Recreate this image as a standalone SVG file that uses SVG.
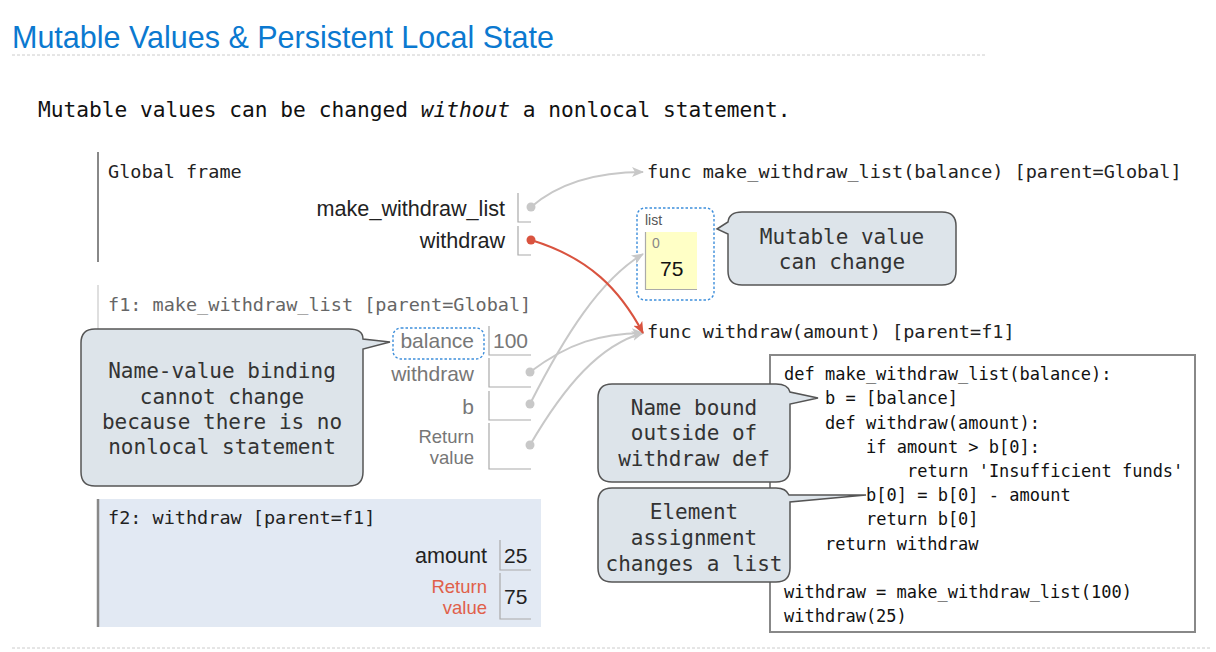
<svg xmlns="http://www.w3.org/2000/svg" width="1216" height="652" viewBox="0 0 1216 652">
<style>
  .mono { font-family: "DejaVu Sans Mono", "Liberation Mono", monospace; }
  .sans { font-family: "Liberation Sans", Arial, sans-serif; }
  .hdr { font-size: 18.5px; fill: #222; }
  .hdrg { font-size: 18.5px; fill: #666; }
  .lbl { font-size: 21.6px; fill: #222; text-anchor: end; }
  .lblg { font-size: 21px; fill: #777; text-anchor: end; }
  .rv { font-size: 18.5px; fill: #777; text-anchor: end; }
  .rvr { font-size: 18.5px; fill: #e0604a; text-anchor: end; }
  .val { font-size: 21px; fill: #222; }
  .valg { font-size: 21px; fill: #777; }
  .box { fill: none; stroke: #aaa; stroke-width: 1.2; }
  .code { font-size: 17px; fill: #111; }
  .callout { fill: #dde4ea; stroke: #555; stroke-width: 1.5; }
  .ctext { font-size: 21px; fill: #333; text-anchor: middle; }
  .dotted { fill: none; stroke: #3d8edb; stroke-width: 1.4; stroke-dasharray: 2.5,2; }
  .gray { fill: none; stroke: #c8c8c8; stroke-width: 2; }
  .red { fill: none; stroke: #d9533f; stroke-width: 2; }
</style>
<defs>
  <marker id="ag" viewBox="0 0 12 10" refX="11" refY="5" markerWidth="12" markerHeight="10" markerUnits="userSpaceOnUse" orient="auto">
    <path d="M0,0 L12,5 L0,10 L3,5 Z" fill="#c8c8c8"/>
  </marker>
  <marker id="ar" viewBox="0 0 12 10" refX="11" refY="5" markerWidth="12" markerHeight="10" markerUnits="userSpaceOnUse" orient="auto">
    <path d="M0,0 L12,5 L0,10 L3,5 Z" fill="#d9533f"/>
  </marker>
</defs>
<rect width="1216" height="652" fill="#ffffff"/>

<g id="title">
  <text x="12" y="48" class="sans" font-size="30.5" fill="#0b79d0">Mutable Values &amp; Persistent Local State</text>
  <line x1="12" y1="55" x2="985" y2="55" stroke="#cccccc" stroke-width="1" stroke-dasharray="3,2"/>
  <text x="38" y="117" class="mono" font-size="21.2" fill="#111" xml:space="preserve">Mutable values can be changed <tspan font-style="italic">without</tspan> a nonlocal statement.</text>
  <line x1="12" y1="648" x2="1212" y2="648" stroke="#cccccc" stroke-width="1" stroke-dasharray="3,2"/>
</g>

<g id="global-frame">
  <line x1="98" y1="152" x2="98" y2="262" stroke="#888" stroke-width="2"/>
  <text x="108" y="178" class="mono hdr">Global frame</text>
  <text x="505" y="216" class="sans lbl">make_withdraw_list</text>
  <path d="M518,193 V222 H531" class="box"/>
  <text x="505" y="248" class="sans lbl">withdraw</text>
  <path d="M518,226 V255 H531" class="box"/>
</g>

<g id="f1-frame">
  <line x1="98" y1="285" x2="98" y2="485" stroke="#d4d4d4" stroke-width="1.5"/>
  <text x="108" y="311" class="mono hdrg">f1: make_withdraw_list [parent=Global]</text>
  <rect x="393" y="328" width="91" height="31" rx="8" class="dotted"/>
  <text x="474" y="348" class="sans lblg">balance</text>
  <path d="M489,326 V355 H531" class="box"/>
  <text x="493" y="348" class="sans valg">100</text>
  <text x="474" y="381" class="sans lblg">withdraw</text>
  <path d="M489,358 V387 H531" class="box"/>
  <text x="474" y="414" class="sans lblg">b</text>
  <path d="M489,391 V420 H531" class="box"/>
  <text x="474" y="443" class="sans rv">Return</text>
  <text x="474" y="464" class="sans rv">value</text>
  <path d="M489,423 V469 H531" class="box"/>
</g>

<g id="f2-frame">
  <rect x="97" y="499" width="444" height="128" fill="#e2e9f3"/>
  <line x1="98" y1="499" x2="98" y2="627" stroke="#888" stroke-width="2.5"/>
  <text x="108" y="524" class="mono hdr">f2: withdraw [parent=f1]</text>
  <text x="487" y="563" class="sans lbl">amount</text>
  <path d="M500,540 V570 H531" class="box"/>
  <text x="504" y="563" class="sans val">25</text>
  <text x="487" y="593" class="sans rvr">Return</text>
  <text x="487" y="614" class="sans rvr">value</text>
  <path d="M500,573 V619 H531" class="box"/>
  <text x="504" y="604" class="sans val">75</text>
</g>

<g id="func-make-withdraw-list">
  <text x="647" y="178" class="mono hdr">func make_withdraw_list(balance) [parent=Global]</text>
</g>

<g id="func-withdraw">
  <text x="647" y="338" class="mono hdr">func withdraw(amount) [parent=f1]</text>
</g>

<g id="list">
  <rect x="637" y="208" width="77" height="92" rx="8" class="dotted"/>
  <text x="645" y="225" class="sans" font-size="14" fill="#555">list</text>
  <rect x="645" y="232" width="52" height="58" fill="#ffffc6"/>
  <path d="M645.5,232 V289.5 H697" fill="none" stroke="#aaa" stroke-width="1.2"/>
  <text x="652" y="248" class="sans" font-size="14" fill="#888">0</text>
  <text x="660" y="276" class="sans" font-size="21" fill="#111">75</text>
</g>

<g id="code">
  <rect x="770" y="355" width="425" height="277" fill="#fff" stroke="#888" stroke-width="2"/>
  <g class="mono code">
    <text x="784" y="380">def make_withdraw_list(balance):</text>
    <text x="825" y="404">b = [balance]</text>
    <text x="825" y="429">def withdraw(amount):</text>
    <text x="866" y="453">if amount &gt; b[0]:</text>
    <text x="907" y="477">return 'Insufficient funds'</text>
    <text x="866" y="501">b[0] = b[0] - amount</text>
    <text x="866" y="525">return b[0]</text>
    <text x="825" y="550">return withdraw</text>
    <text x="784" y="598">withdraw = make_withdraw_list(100)</text>
    <text x="784" y="622">withdraw(25)</text>
  </g>
</g>

<g id="connectors">
  <path d="M531,207 C560,182 600,172 643,172" class="gray" marker-end="url(#ag)"/>
  <path d="M530,372 C570,342 600,334 643,333" class="gray" marker-end="url(#ag)"/>
  <path d="M530,404 C565,335 600,280 643,254" class="gray" marker-end="url(#ag)"/>
  <path d="M530,445 C565,385 600,345 643,333" class="gray" marker-end="url(#ag)"/>
  <path d="M531,240 C590,258 620,290 643,333" class="red" marker-end="url(#ar)"/>
  <circle cx="531" cy="207" r="4.5" fill="#c8c8c8"/>
  <circle cx="530" cy="372" r="4.5" fill="#c8c8c8"/>
  <circle cx="530" cy="404" r="4.5" fill="#c8c8c8"/>
  <circle cx="530" cy="445" r="4.5" fill="#c8c8c8"/>
  <circle cx="531" cy="240" r="4.5" fill="#d9533f"/>
</g>

<g id="callout-name-value">
  <path d="M95,329 H349 Q363,329 363,339 L390,342 L363,349 V472 Q363,486 349,486 H95 Q81,486 81,472 V343 Q81,329 95,329 Z" class="callout"/>
  <g class="mono ctext">
    <text x="222" y="378">Name-value binding</text>
    <text x="222" y="404">cannot change</text>
    <text x="222" y="429">because there is no</text>
    <text x="222" y="454">nonlocal statement</text>
  </g>
</g>

<g id="callout-mutable">
  <path d="M742,212 H942 Q956,212 956,226 V271 Q956,285 942,285 H742 Q728,285 728,271 V234 L717,229 L728,222 Q729,212 742,212 Z" class="callout"/>
  <g class="mono ctext">
    <text x="842" y="244">Mutable value</text>
    <text x="842" y="269">can change</text>
  </g>
</g>

<g id="callout-name-bound">
  <path d="M612,384 H776 Q788,384 790,392 L818,398 L790,404 V468 Q790,482 776,482 H612 Q598,482 598,468 V398 Q598,384 612,384 Z" class="callout"/>
  <g class="mono ctext">
    <text x="694" y="415">Name bound</text>
    <text x="694" y="440">outside of</text>
    <text x="694" y="466">withdraw def</text>
  </g>
</g>

<g id="callout-element">
  <path d="M612,488 H776 Q786,488 789,495 L866,495 L790,502 V568 Q790,582 776,582 H612 Q598,582 598,568 V502 Q598,488 612,488 Z" class="callout"/>
  <g class="mono ctext">
    <text x="694" y="519">Element</text>
    <text x="694" y="545">assignment</text>
    <text x="694" y="571">changes a list</text>
  </g>
</g>
</svg>
